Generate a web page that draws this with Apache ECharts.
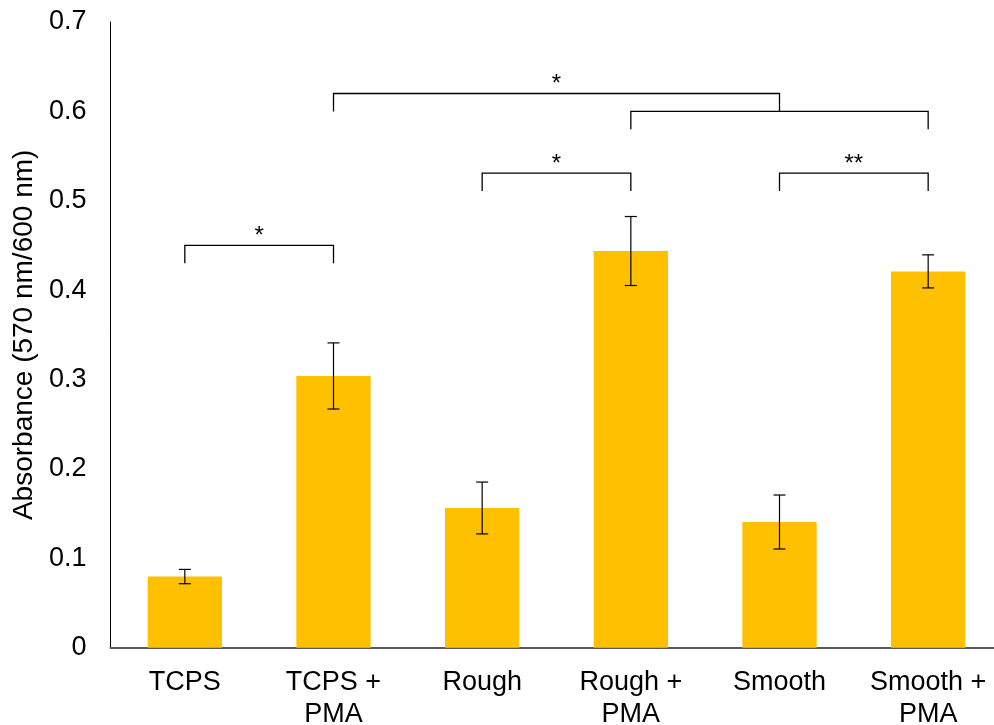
<!DOCTYPE html>
<html><head><meta charset="utf-8">
<script src="https://cdn.jsdelivr.net/npm/echarts@6/dist/echarts.min.js"></script>
<style>html,body{margin:0;padding:0;background:#fff}#c{width:994px;height:725px}</style>
</head><body><div id="c"></div>
<script>
const categories = ['TCPS', 'TCPS +\nPMA', 'Rough', 'Rough +\nPMA', 'Smooth', 'Smooth +\nPMA'];
const values = [0.0796, 0.304, 0.1563, 0.4438, 0.1406, 0.421];
const errors = [0.008, 0.037, 0.029, 0.0386, 0.0302, 0.0185];
const yMin = 0, yMax = 0.7, yInterval = 0.1;
// significance brackets: [fromIndex, toIndex, level, drop, label]
const brackets = [
  [0, 1, 0.45, 0.02, '*'],
  [2, 3, 0.531, 0.02, '*'],
  [4, 5, 0.531, 0.02, '**'],
  [1, 4, 0.62, 0.02, '*'],
  [3, 5, 0.60, 0.02, '']
];

const FONT = '"Liberation Sans", Arial, sans-serif';
const chart = echarts.init(document.getElementById('c'), null, {renderer: 'canvas'});

const errData = values.map((v, i) => [i, v - errors[i], v + errors[i]]);
const brData = brackets.map(b => [b[0], b[2], b[1], b[3]]);

chart.setOption({
  animation: false,
  backgroundColor: '#fff',
  grid: {left: 110.5, top: 22, width: 892, bottom: 77.3, containLabel: false, outerBoundsMode: 'none'},
  xAxis: {
    type: 'category',
    data: categories,
    axisLine: {lineStyle: {color: '#595959', width: 2}},
    axisTick: {show: false},
    axisLabel: {color: '#000', fontSize: 27, fontFamily: FONT, lineHeight: 32, margin: 19, interval: 0}
  },
  yAxis: {
    type: 'value',
    min: yMin, max: yMax, interval: yInterval,
    name: 'Absorbance (570 nm/600 nm)',
    nameLocation: 'middle',
    nameGap: 72,
    nameTextStyle: {color: '#000', fontSize: 28, fontFamily: FONT},
    axisLine: {show: true, lineStyle: {color: '#000', width: 1}},
    axisTick: {show: false},
    splitLine: {show: false},
    axisLabel: {color: '#000', fontSize: 27, fontFamily: FONT, margin: 24,
      formatter: v => v === 0 ? '0' : v.toFixed(1)}
  },
  series: [
    {
      type: 'bar',
      data: values,
      barWidth: '50%',
      itemStyle: {color: '#FFC000'},
      z: 2
    },
    {
      type: 'custom',
      data: errData,
      encode: {x: 0, y: [1, 2]},
      z: 3,
      renderItem: function (params, api) {
        const i = api.value(0);
        const lo = api.coord([i, api.value(1)]);
        const hi = api.coord([i, api.value(2)]);
        const hw = 6;
        const st = {stroke: '#000', lineWidth: 1.2};
        return {type: 'group', children: [
          {type: 'line', shape: {x1: lo[0], y1: lo[1], x2: hi[0], y2: hi[1]}, style: st},
          {type: 'line', shape: {x1: hi[0] - hw, y1: hi[1], x2: hi[0] + hw, y2: hi[1]}, style: st},
          {type: 'line', shape: {x1: lo[0] - hw, y1: lo[1], x2: lo[0] + hw, y2: lo[1]}, style: st}
        ]};
      }
    },
    {
      type: 'custom',
      data: brData,
      encode: {x: 0, y: 1},
      z: 4,
      renderItem: function (params, api) {
        const idx = params.dataIndex;
        const b = brackets[idx];
        const p1 = api.coord([b[0], b[2]]);
        const p2 = api.coord([b[1], b[2]]);
        const d1 = api.coord([b[0], b[2] - b[3]]);
        const d2 = api.coord([b[1], b[2] - b[3]]);
        const st = {stroke: '#000', lineWidth: 1.3, fill: null};
        const children = [
          {type: 'polyline', shape: {points: [d1, p1, p2, d2]}, style: st}
        ];
        if (b[4]) {
          children.push({type: 'text', style: {
            text: b[4], x: (p1[0] + p2[0]) / 2, y: p1[1] - 9,
            align: 'center', verticalAlign: 'middle',
            font: '24px ' + FONT, fill: '#000'
          }});
        }
        return {type: 'group', children: children};
      }
    }
  ]
});
</script>
</body></html>
